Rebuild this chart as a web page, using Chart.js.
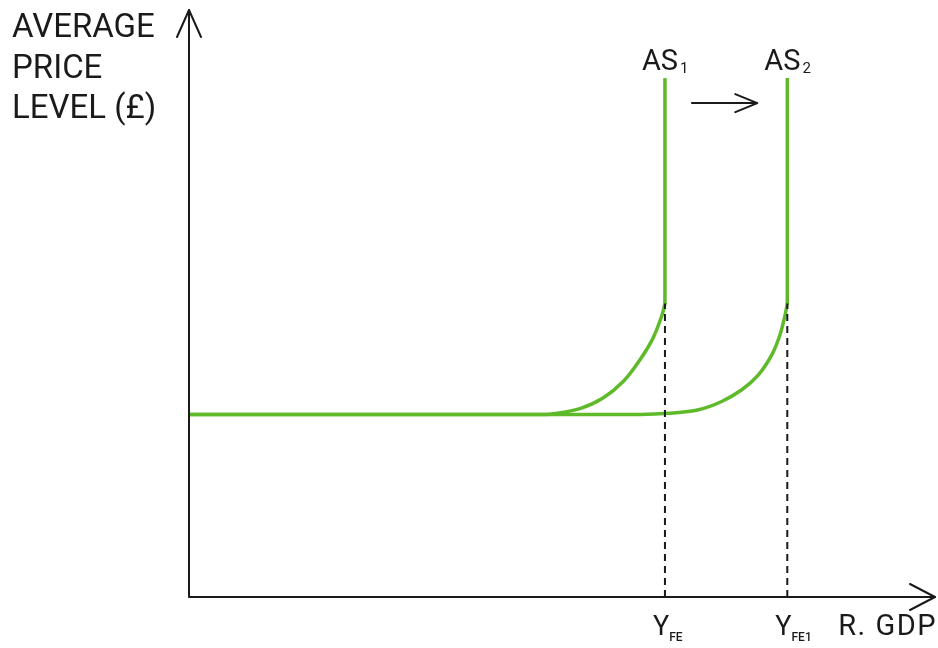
<!DOCTYPE html>
<html>
<head>
<meta charset="utf-8">
<script src="https://cdn.jsdelivr.net/npm/chart.js@4.4.1/dist/chart.umd.min.js"></script>
<style>
  html, body { margin: 0; padding: 0; background: #ffffff; }
  #wrap { width: 938px; height: 648px; }
</style>
</head>
<body>
<div id="wrap"><canvas id="c" width="938" height="648"></canvas></div>
<script>
// ---- data (axis units 0..100) ----
const yAxisLabel = ['AVERAGE', 'PRICE', 'LEVEL (£)'];
const xAxisLabel = 'R. GDP';
const curveNames = ['AS', 'AS'];
const curveSubs = ['1', '2'];
const fullEmpNames = ['Y', 'Y'];
const fullEmpSubs = ['FE', 'FE1'];
const as1X = [0, 46.0, 48.4, 52.4, 55.5, 58.2, 60.5, 62.2, 63.4, 63.8];
const as1Y = [31.1, 31.1, 31.15, 32.1, 33.9, 36.7, 40.5, 44.1, 48.0, 50.0];
const as2X = [0, 60.5, 64.3, 68.3, 71.4, 74.1, 76.3, 78.1, 79.2, 79.9, 80.2];
const as2Y = [31.1, 31.1, 31.3, 31.9, 33.3, 35.3, 37.8, 41.2, 44.6, 48.0, 50.0];
const yfeX = [63.8, 80.2];
const kinkY = 50.0;
const topY = 88.4;

const GREEN = '#5fba2a';
const INK = '#1a1a1a';
const FONT = 'Roboto, "DejaVu Sans", sans-serif';

function pts(xs, ys) { return xs.map((x, i) => ({ x: x, y: ys[i] })); }

const datasets = [];
// dashed drop lines
yfeX.forEach(x => datasets.push({
  data: [{ x: x, y: 0 }, { x: x, y: kinkY }],
  borderColor: INK, borderWidth: 2, borderDash: [7, 5], pointRadius: 0, tension: 0
}));
// AS curves
[[as1X, as1Y], [as2X, as2Y]].forEach(([xs, ys]) => datasets.push({
  data: pts(xs, ys), borderColor: GREEN, borderWidth: 3.5, pointRadius: 0,
  tension: 0.35, borderCapStyle: 'round', borderJoinStyle: 'round'
}));
// vertical (full-employment) parts
yfeX.forEach(x => datasets.push({
  data: [{ x: x, y: kinkY }, { x: x, y: topY }],
  borderColor: GREEN, borderWidth: 3.5, pointRadius: 0, tension: 0, borderCapStyle: 'butt'
}));

const decor = {
  id: 'decor',
  afterDatasetsDraw(chart) {
    const { ctx, scales: { x, y }, chartArea: ca } = chart;
    const x0 = x.getPixelForValue(0), y0 = y.getPixelForValue(0);
    ctx.save();
    ctx.strokeStyle = INK; ctx.lineWidth = 2; ctx.lineCap = 'round'; ctx.lineJoin = 'round';
    // axes
    ctx.beginPath();
    ctx.moveTo(x0, ca.top); ctx.lineTo(x0, y0); ctx.lineTo(ca.right, y0);
    ctx.stroke();
    // y arrowhead
    ctx.beginPath();
    ctx.moveTo(x0 - 12, ca.top + 27); ctx.lineTo(x0, ca.top); ctx.lineTo(x0 + 12, ca.top + 27);
    ctx.stroke();
    // x arrowhead
    ctx.beginPath();
    ctx.moveTo(ca.right - 25, y0 - 13); ctx.lineTo(ca.right, y0); ctx.lineTo(ca.right - 25, y0 + 13);
    ctx.stroke();

    ctx.fillStyle = INK;
    ctx.textBaseline = 'alphabetic';
    // y label
    ctx.font = '400 33px ' + FONT;
    ctx.textAlign = 'left';
    yAxisLabel.forEach((t, i) => ctx.fillText(t, 12, 37 + i * 40.5));
    // x label
    ctx.textAlign = 'right';
    ctx.font = '400 29px ' + FONT;
    try { ctx.letterSpacing = '1.5px'; } catch (e) {}
    ctx.fillText(xAxisLabel, ca.right + 2, y0 + 38);
    try { ctx.letterSpacing = '0px'; } catch (e) {}

    // AS labels
    const yTop = y.getPixelForValue(topY);
    yfeX.forEach((v, i) => {
      const px = x.getPixelForValue(v);
      ctx.textAlign = 'left';
      ctx.font = '400 29px ' + FONT;
      const w = ctx.measureText(curveNames[i]).width;
      const sx = px - 23;
      ctx.fillText(curveNames[i], sx, yTop - 8);
      ctx.font = '400 15px ' + FONT;
      ctx.fillText(curveSubs[i], sx + w + 2, yTop - 5);
    });
    // Y_FE labels
    yfeX.forEach((v, i) => {
      const px = x.getPixelForValue(v);
      ctx.textAlign = 'left';
      ctx.font = '400 27px ' + FONT;
      const w = ctx.measureText(fullEmpNames[i]).width;
      const sx = px - 12;
      ctx.fillText(fullEmpNames[i], sx, y0 + 38);
      ctx.font = '500 12px ' + FONT;
      ctx.fillText(fullEmpSubs[i], sx + w, y0 + 44);
    });
    // shift arrow
    const a1 = x.getPixelForValue(yfeX[0]), a2 = x.getPixelForValue(yfeX[1]);
    const ay = yTop + 25;
    ctx.beginPath();
    ctx.moveTo(a1 + 27, ay); ctx.lineTo(a2 - 30, ay);
    ctx.moveTo(a2 - 52, ay - 9); ctx.lineTo(a2 - 30, ay); ctx.lineTo(a2 - 52, ay + 9);
    ctx.stroke();
    ctx.restore();
  }
};

new Chart(document.getElementById('c'), {
  type: 'line',
  data: { datasets: datasets },
  options: {
    responsive: false,
    animation: false,
    events: [],
    layout: { padding: { left: 189, right: 3, top: 10, bottom: 51 } },
    plugins: { legend: { display: false }, tooltip: { enabled: false }, title: { display: false } },
    scales: {
      x: { type: 'linear', min: 0, max: 100, display: false },
      y: { type: 'linear', min: 0, max: 100, display: false }
    }
  },
  plugins: [decor]
});
</script>
</body>
</html>
